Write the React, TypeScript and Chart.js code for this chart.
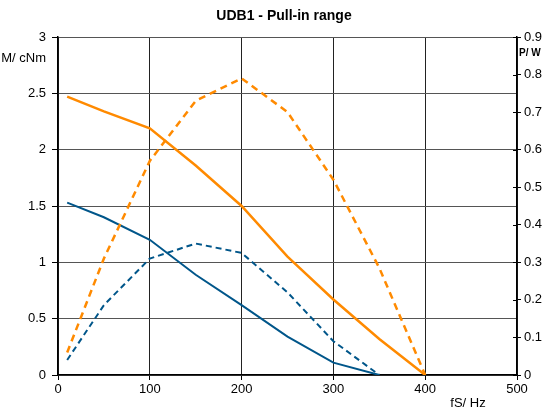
import React, { useEffect, useRef } from "react";
import { Chart, registerables } from "chart.js";

Chart.register(...registerables);

const freqOrange = [10, 50, 100, 150, 200, 250, 300, 350, 400];
const torqueOrange = [2.47, 2.34, 2.19, 1.86, 1.5, 1.05, 0.67, 0.32, 0];
const powerOrange = [0.06, 0.31, 0.57, 0.73, 0.79, 0.7, 0.52, 0.285, 0];

const freqBlue = [10, 50, 100, 150, 200, 250, 300, 350];
const torqueBlue = [1.53, 1.4, 1.2, 0.89, 0.62, 0.34, 0.11, 0];
const powerBlue = [0.04, 0.186, 0.31, 0.35, 0.325, 0.22, 0.09, 0];

const xTicks = [0, 100, 200, 300, 400, 500];
const leftTicks = [0, 0.5, 1, 1.5, 2, 2.5, 3];
const rightTicks = [0, 0.1, 0.2, 0.3, 0.4, 0.5, 0.6, 0.7, 0.8, 0.9];

const titleText = "UDB1 - Pull-in range";
const leftAxisTitle = "M/ cNm";
const rightAxisTitle = "P/ W";
const xAxisTitle = "fS/ Hz";

const ORANGE = "#ff8a00";
const BLUE = "#00568a";
const FONT = "'Liberation Sans', Arial, sans-serif";

const pts = (xs: number[], ys: number[]) => xs.map((x, i) => ({ x, y: ys[i] }));

const labelsPlugin = {
  id: "labels",
  afterDraw(chart: any) {
    const { ctx, chartArea } = chart;
    ctx.save();
    ctx.fillStyle = "#000";
    ctx.font = `bold 14px ${FONT}`;
    ctx.textAlign = "center";
    ctx.textBaseline = "middle";
    ctx.fillText(titleText, 284, 16);
    ctx.font = `13px ${FONT}`;
    ctx.textAlign = "right";
    ctx.fillText(leftAxisTitle, 46, 58);
    ctx.font = `bold 10px ${FONT}`;
    ctx.textAlign = "left";
    ctx.fillText(rightAxisTitle, 519, 53);
    ctx.font = `13px ${FONT}`;
    ctx.textAlign = "center";
    ctx.fillText(xAxisTitle, 468, 403);
    // right axis inner tick marks
    const y1 = chart.scales.y1;
    ctx.strokeStyle = "#000";
    ctx.lineWidth = 1;
    rightTicks.forEach((t) => {
      const py = Math.round(y1.getPixelForValue(t)) + 0.5;
      ctx.beginPath();
      ctx.moveTo(chartArea.right - 4, py);
      ctx.lineTo(chartArea.right, py);
      ctx.stroke();
    });
    ctx.restore();
  },
};

export default function App() {
  const ref = useRef<HTMLCanvasElement>(null);
  useEffect(() => {
    document.body.style.margin = "0";
    const chart = new Chart(ref.current!, {
      type: "line",
      data: {
        datasets: [
          {
            data: pts(freqOrange, torqueOrange),
            borderColor: ORANGE,
            borderWidth: 2.5,
            pointRadius: 0,
            yAxisID: "y",
          },
          {
            data: pts(freqOrange, powerOrange),
            borderColor: ORANGE,
            borderWidth: 2.5,
            borderDash: [7, 5],
            pointRadius: 0,
            yAxisID: "y1",
          },
          {
            data: pts(freqBlue, torqueBlue),
            borderColor: BLUE,
            borderWidth: 2,
            pointRadius: 0,
            yAxisID: "y",
          },
          {
            data: pts(freqBlue, powerBlue),
            borderColor: BLUE,
            borderWidth: 2,
            borderDash: [6, 4],
            pointRadius: 0,
            yAxisID: "y1",
          },
        ],
      },
      options: {
        animation: false,
        responsive: false,
        layout: { padding: { top: 37, left: 0, right: 0, bottom: 0 } },
        plugins: { legend: { display: false }, title: { display: false }, tooltip: { enabled: false } },
        scales: {
          x: {
            type: "linear",
            min: 0,
            max: 500,
            afterBuildTicks: (s: any) => {
              s.ticks = xTicks.map((v) => ({ value: v }));
            },
            afterFit: (s: any) => {
              s.height = 40;
            },
            border: { color: "#000", width: 1.5 },
            grid: { color: "#222", lineWidth: 1, tickLength: 5, tickColor: "#000" },
            ticks: { color: "#000", font: { family: FONT, size: 13 }, padding: 2, maxRotation: 0 },
          },
          y: {
            position: "left",
            min: 0,
            max: 3,
            afterBuildTicks: (s: any) => {
              s.ticks = leftTicks.map((v) => ({ value: v }));
            },
            afterFit: (s: any) => {
              s.width = 58;
            },
            border: { color: "#000", width: 1.5 },
            grid: { color: "#555", lineWidth: 1, tickLength: 6, tickColor: "#000" },
            ticks: { color: "#000", font: { family: FONT, size: 13 }, padding: 6, callback: (v: any) => String(v) },
          },
          y1: {
            position: "right",
            min: 0,
            max: 0.9,
            afterBuildTicks: (s: any) => {
              s.ticks = rightTicks.map((v) => ({ value: v }));
            },
            afterFit: (s: any) => {
              s.width = 32;
            },
            border: { color: "#000", width: 1.5 },
            grid: { drawOnChartArea: false, tickLength: 4, tickColor: "#000" },
            ticks: {
              color: "#000",
              font: { family: FONT, size: 13 },
              padding: 3,
              callback: (v: any) => String(Math.round(v * 10) / 10),
            },
          },
        },
      } as any,
      plugins: [labelsPlugin],
    });
    return () => chart.destroy();
  }, []);
  return (
    <div style={{ width: 549, height: 415 }}>
      <canvas ref={ref} width={549} height={415} />
    </div>
  );
}
